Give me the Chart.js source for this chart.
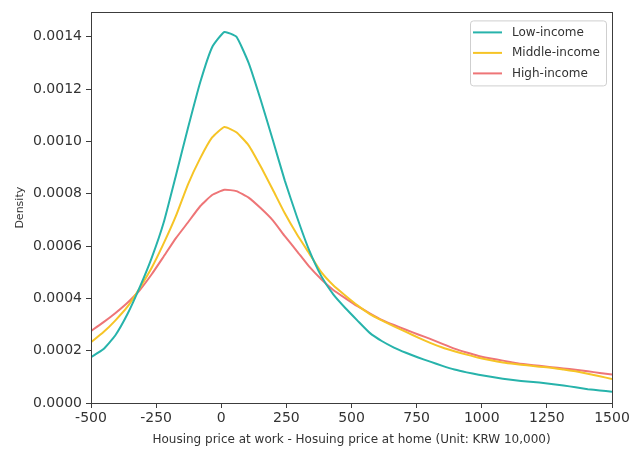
<!DOCTYPE html>
<html>
<head>
<meta charset="utf-8">
<script src="https://cdn.jsdelivr.net/npm/chart.js@4.4.1/dist/chart.umd.min.js"></script>
<style>
  html, body { margin: 0; padding: 0; background: #ffffff; }
  #wrap { width: 643px; height: 449px; position: relative; }
</style>
</head>
<body>
<div id="wrap"><canvas id="c" width="643" height="449"></canvas></div>
<script>
// Evaluation grid (x values of the density estimate)
const xValues = [-500,-453,-407,-360,-314,-267,-221,-174,-128,-81,-35,12,58,105,151,198,244,291,337,384,430,477,523,570,616,663,709,756,802,849,895,942,988,1035,1081,1128,1174,1221,1267,1314,1360,1407,1453,1500];

const lowIncome = [0.000175,0.000205,0.000258,0.000340,0.000440,0.000555,0.000690,0.000870,0.001050,0.001225,0.001360,0.001418,0.001400,0.001300,0.001160,0.001005,0.000850,0.000710,0.000585,0.000485,0.000415,0.000362,0.000315,0.000268,0.000237,0.000212,0.000192,0.000174,0.000158,0.000142,0.000128,0.000117,0.000108,0.000100,0.000093,0.000087,0.000082,0.000078,0.000073,0.000067,0.000060,0.000053,0.000048,0.000043];

const middleIncome = [0.000232,0.000270,0.000315,0.000368,0.000438,0.000517,0.000610,0.000715,0.000835,0.000935,0.001015,0.001055,0.001035,0.000985,0.000905,0.000815,0.000725,0.000644,0.000573,0.000500,0.000450,0.000410,0.000373,0.000340,0.000316,0.000293,0.000272,0.000250,0.000230,0.000212,0.000198,0.000185,0.000173,0.000163,0.000155,0.000149,0.000144,0.000139,0.000135,0.000128,0.000121,0.000112,0.000102,0.000092];

const highIncome = [0.000275,0.000308,0.000343,0.000383,0.000430,0.000492,0.000560,0.000630,0.000690,0.000752,0.000795,0.000815,0.000810,0.000785,0.000745,0.000698,0.000638,0.000580,0.000522,0.000473,0.000432,0.000400,0.000370,0.000343,0.000318,0.000298,0.000280,0.000262,0.000245,0.000226,0.000208,0.000193,0.000180,0.000170,0.000162,0.000153,0.000147,0.000142,0.000137,0.000132,0.000127,0.000121,0.000115,0.000109];

const seriesNames = ['Low-income', 'Middle-income', 'High-income'];
const xTicks = [-500, -250, 0, 250, 500, 750, 1000, 1250, 1500];
const yTicks = [0, 0.0002, 0.0004, 0.0006, 0.0008, 0.0010, 0.0012, 0.0014];
const xTitle = 'Housing price at work - Hosuing price at home (Unit: KRW 10,000)';
const yTitle = 'Density';

const colors = ['#27b3ab', '#f6c426', '#ee7577'];
const FONT = '"DejaVu Sans", sans-serif';
const AXIS = '#3c3c3c';

function toPoints(ys) { return xValues.map((x, i) => ({ x: x, y: ys[i] })); }

const frame = {
  id: 'frame',
  afterDatasetsDraw(chart) {
    const a = chart.chartArea, ctx = chart.ctx;
    ctx.save();
    ctx.strokeStyle = AXIS;
    ctx.lineWidth = 1;
    ctx.strokeRect(Math.round(a.left) + 0.5, Math.round(a.top) + 0.5, Math.round(a.right - a.left), Math.round(a.bottom - a.top));
    ctx.restore();
  }
};

const legendBox = {
  id: 'legendBox',
  afterDraw(chart) {
    const a = chart.chartArea, ctx = chart.ctx;
    const bx = a.right - 142, by = a.top + 8, bw = 136, bh = 65;
    ctx.save();
    ctx.fillStyle = 'rgba(255,255,255,0.85)';
    ctx.strokeStyle = '#cfcfcf';
    ctx.lineWidth = 1;
    ctx.beginPath();
    ctx.roundRect(bx + 0.5, by + 0.5, bw, bh, 3);
    ctx.fill();
    ctx.stroke();
    ctx.font = '12px ' + FONT;
    ctx.textBaseline = 'middle';
    ctx.textAlign = 'left';
    chart.data.datasets.forEach((ds, i) => {
      const y = by + 12 + i * 20.5;
      ctx.strokeStyle = ds.borderColor;
      ctx.lineWidth = 2;
      ctx.beginPath();
      ctx.moveTo(bx + 3, y);
      ctx.lineTo(bx + 32, y);
      ctx.stroke();
      ctx.fillStyle = '#333';
      ctx.fillText(ds.label, bx + 42, y);
    });
    ctx.restore();
  }
};

new Chart(document.getElementById('c'), {
  type: 'line',
  data: {
    datasets: [
      { label: seriesNames[0], data: toPoints(lowIncome), borderColor: colors[0] },
      { label: seriesNames[1], data: toPoints(middleIncome), borderColor: colors[1] },
      { label: seriesNames[2], data: toPoints(highIncome), borderColor: colors[2] }
    ].map(d => Object.assign(d, { borderWidth: 2, pointRadius: 0, tension: 0.15, fill: false, backgroundColor: d.borderColor }))
  },
  options: {
    responsive: false,
    animation: false,
    devicePixelRatio: 1,
    layout: { padding: { top: 10, right: 31, left: 0, bottom: 0 } },
    plugins: { legend: { display: false }, tooltip: { enabled: false } },
    scales: {
      x: {
        type: 'linear',
        min: -500, max: 1500,
        afterBuildTicks: s => { s.ticks = xTicks.map(v => ({ value: v })); },
        afterFit: s => { s.height = 46; },
        grid: { drawOnChartArea: false, drawTicks: true, tickLength: 5, color: AXIS, tickWidth: 1 },
        border: { display: true, color: AXIS, width: 1 },
        ticks: { font: { family: FONT, size: 14 }, color: '#333', padding: 2, maxRotation: 0, autoSkip: false, callback: v => String(v) },
        title: { display: true, text: xTitle, font: { family: FONT, size: 12 }, color: '#333', padding: { top: 0, bottom: 2 } }
      },
      y: {
        type: 'linear',
        min: 0, max: 0.001493,
        afterBuildTicks: s => { s.ticks = yTicks.map(v => ({ value: v })); },
        afterFit: s => { s.width = 91; },
        grid: { drawOnChartArea: false, drawTicks: true, tickLength: 5, color: AXIS, tickWidth: 1 },
        border: { display: true, color: AXIS, width: 1 },
        ticks: { font: { family: FONT, size: 14 }, color: '#333', padding: 4, callback: v => v.toFixed(4) },
        title: { display: true, text: yTitle, font: { family: FONT, size: 11 }, color: '#333', padding: { top: 14, bottom: 0 } }
      }
    }
  },
  plugins: [frame, legendBox]
});
</script>
</body>
</html>
